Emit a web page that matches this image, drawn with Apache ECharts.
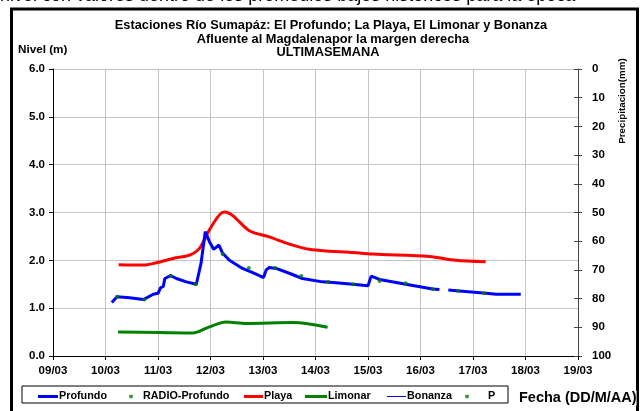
<!DOCTYPE html>
<html>
<head>
<meta charset="utf-8">
<script src="https://cdn.jsdelivr.net/npm/echarts@6/dist/echarts.min.js"></script>
<style>
  html, body { margin: 0; padding: 0; background: #fff; }
  #chart { width: 642px; height: 411px; }
</style>
</head>
<body>
<div id="chart"></div>
<script>
// eje x: dia de marzo (fraccion = hora del dia)
const xTickLabels = ['09/03', '10/03', '11/03', '12/03', '13/03', '14/03', '15/03', '16/03', '17/03', '18/03', '19/03']

const profundo = [
  [10.12, 1.12], [10.22, 1.24], [10.46, 1.22], [10.72, 1.18], [10.91, 1.29], [11.0, 1.31],
  [11.05, 1.43], [11.10, 1.45], [11.13, 1.62], [11.24, 1.68], [11.35, 1.62], [11.54, 1.55],
  [11.73, 1.50], [11.82, 1.94], [11.90, 2.60], [11.98, 2.39], [12.06, 2.23], [12.16, 2.32],
  [12.23, 2.15], [12.36, 2.00], [12.61, 1.83], [12.87, 1.71], [13.01, 1.64], [13.06, 1.80],
  [13.12, 1.85], [13.25, 1.83], [13.50, 1.73], [13.75, 1.62], [14.13, 1.55], [14.39, 1.53],
  [14.71, 1.50], [15.0, 1.47], [15.06, 1.67], [15.22, 1.60], [15.72, 1.50], [16.23, 1.40],
  [16.36, 1.39], [16.45, null], [16.53, 1.38], [16.74, 1.36], [17.25, 1.31], [17.44, 1.29],
  [17.91, 1.29]
]

const radioDias = [10.22, 10.74, 11.24, 11.72, 12.23, 12.73, 13.23, 13.73, 14.24, 14.72, 15.22, 15.72, 16.23, 16.72, 17.21]
const radioNivel = [1.24, 1.18, 1.68, 1.50, 2.13, 1.84, 1.84, 1.67, 1.55, 1.50, 1.57, 1.52, 1.40, 1.36, 1.31]

const playa = [
  [10.25, 1.91], [10.72, 1.90], [10.97, 1.95], [11.29, 2.04], [11.60, 2.11], [11.79, 2.25],
  [11.98, 2.64], [12.17, 2.95], [12.27, 3.01], [12.43, 2.93], [12.74, 2.62], [13.12, 2.49],
  [13.50, 2.34], [13.88, 2.23], [14.27, 2.19], [14.64, 2.17], [15.09, 2.13], [16.17, 2.08],
  [16.67, 2.00], [17.24, 1.97]
]

const limonar = [
  [10.24, 0.50], [11.03, 0.49], [11.66, 0.48], [11.98, 0.61], [12.30, 0.71], [12.68, 0.68],
  [13.57, 0.70], [13.82, 0.68], [14.23, 0.60]
]

// sin datos visibles
const bonanza = []
const precipitacion = []

const radio = radioDias.map(function (d, i) { return [d, radioNivel[i]] })

const font = 'Arial, "Liberation Sans", sans-serif'
const lbl = { color: '#000', fontWeight: 'bold', fontSize: 11.5, fontFamily: font }

function legendItem (name, left, icon, w, h, textPad) {
  return {
    data: [{ name: name, icon: icon }],
    left: left,
    top: 391,
    itemWidth: w,
    itemHeight: h,
    itemGap: 0,
    padding: 0,
    selectedMode: false,
    textStyle: { color: '#000', fontWeight: 'bold', fontSize: 10.8, fontFamily: font, padding: [0, 0, 0, textPad] }
  }
}

let myChart = echarts.init(document.getElementById('chart'))
let option = {
  animation: false,
  backgroundColor: '#fff',
  grid: { left: 53, right: 64, top: 69, bottom: 55 },
  legend: [
    legendItem('Profundo', 38, 'rect', 20, 3, -4),
    legendItem('RADIO-Profundo', 129, 'circle', 4, 4, 5),
    legendItem('Playa', 244, 'rect', 19, 3, -4),
    legendItem('Limonar', 305, 'rect', 22, 3, -4),
    legendItem('Bonanza', 387, 'rect', 19, 1, -4),
    legendItem('P', 465, 'circle', 4, 4, 14)
  ],
  xAxis: {
    type: 'value',
    min: 9,
    max: 19,
    interval: 1,
    axisLine: { lineStyle: { color: '#000', width: 1 } },
    axisTick: { show: true, length: 4, lineStyle: { color: '#000' } },
    axisLabel: Object.assign({ margin: 9, formatter: function (v) { return xTickLabels[Math.round(v - 9)] } }, lbl),
    splitLine: { show: true, lineStyle: { color: '#c4c4c4', width: 1 } }
  },
  yAxis: [
    {
      type: 'value',
      min: 0,
      max: 6,
      interval: 1,
      axisLine: { show: true, lineStyle: { color: '#000' } },
      axisTick: { show: true, length: 4, lineStyle: { color: '#000' } },
      axisLabel: Object.assign({ margin: 8, formatter: function (v) { return v.toFixed(1) } }, lbl),
      splitLine: { show: true, lineStyle: { color: '#c4c4c4', width: 1 } }
    },
    {
      type: 'value',
      position: 'right',
      inverse: true,
      min: 0,
      max: 100,
      interval: 10,
      axisLine: { show: true, lineStyle: { color: '#444' } },
      axisTick: { show: true, length: 4, lineStyle: { color: '#444' } },
      axisLabel: Object.assign({ margin: 14 }, lbl),
      splitLine: { show: false }
    },
    {
      type: 'value',
      position: 'right',
      inverse: true,
      min: 0,
      max: 100,
      interval: 10,
      axisLine: { show: false },
      axisTick: { show: true, inside: true, length: 4, lineStyle: { color: '#444' } },
      axisLabel: { show: false },
      splitLine: { show: false }
    }
  ],
  series: [
    {
      name: 'Profundo',
      type: 'line',
      data: profundo,
      showSymbol: false,
      connectNulls: false,
      lineStyle: { color: '#0000ff', width: 3 },
      itemStyle: { color: '#0000ff' },
      z: 3
    },
    {
      name: 'RADIO-Profundo',
      type: 'scatter',
      data: radio,
      symbolSize: 4,
      itemStyle: { color: '#008000' },
      z: 5
    },
    {
      name: 'Playa',
      type: 'line',
      data: playa,
      smooth: 0.3,
      showSymbol: false,
      lineStyle: { color: '#ff0000', width: 3 },
      itemStyle: { color: '#ff0000' },
      z: 2
    },
    {
      name: 'Limonar',
      type: 'line',
      data: limonar,
      smooth: 0.3,
      showSymbol: false,
      lineStyle: { color: '#008000', width: 3 },
      itemStyle: { color: '#008000' }
    },
    {
      name: 'Bonanza',
      type: 'line',
      data: bonanza,
      showSymbol: false,
      lineStyle: { color: '#0000ff', width: 1 },
      itemStyle: { color: '#0000ff' }
    },
    {
      name: 'P',
      type: 'scatter',
      yAxisIndex: 1,
      data: precipitacion,
      symbolSize: 4,
      itemStyle: { color: '#008000' }
    }
  ],
  graphic: [
    {
      type: 'text', left: 0, top: -13,
      style: { text: 'nivel con valores dentro de los promedios bajos históricos para la época', fill: '#000', font: '18px Arial, "Liberation Sans", sans-serif' }
    },
    {
      type: 'rect', shape: { x: 11.5, y: 9, width: 626, height: 420 },
      style: { fill: null, stroke: '#000', lineWidth: 3 }, z: -1
    },
    {
      type: 'text', x: 331, y: 25,
      style: { text: 'Estaciones Río Sumapáz: El Profundo; La Playa, El Limonar y Bonanza', fill: '#000', align: 'center', verticalAlign: 'middle', font: 'bold 12.8px Arial, "Liberation Sans", sans-serif' }
    },
    {
      type: 'text', x: 333, y: 39,
      style: { text: 'Afluente al Magdalenapor la margen derecha', fill: '#000', align: 'center', verticalAlign: 'middle', font: 'bold 12.8px Arial, "Liberation Sans", sans-serif' }
    },
    {
      type: 'text', x: 328, y: 52,
      style: { text: 'ULTIMASEMANA', fill: '#000', align: 'center', verticalAlign: 'middle', font: 'bold 12.8px Arial, "Liberation Sans", sans-serif' }
    },
    {
      type: 'text', x: 18, y: 50,
      style: { text: 'Nivel (m)', fill: '#000', align: 'left', verticalAlign: 'middle', font: 'bold 11.7px Arial, "Liberation Sans", sans-serif' }
    },
    {
      type: 'text', x: 622, y: 101, rotation: Math.PI / 2,
      style: { text: 'Precipitacion(mm)', fill: '#000', align: 'center', verticalAlign: 'middle', font: 'bold 9.8px Arial, "Liberation Sans", sans-serif' }
    },
    {
      type: 'rect', shape: { x: 22, y: 386, width: 486, height: 17 },
      style: { fill: '#fff', stroke: '#000', lineWidth: 1 }, z: 0
    },
    {
      type: 'text', x: 519, y: 398, z: 10,
      style: { text: 'Fecha (DD/M/AA)', fill: '#000', backgroundColor: '#fff', align: 'left', verticalAlign: 'middle', font: 'bold 14.5px Arial, "Liberation Sans", sans-serif' }
    }
  ]
}
myChart.setOption(option)
</script>
</body>
</html>
